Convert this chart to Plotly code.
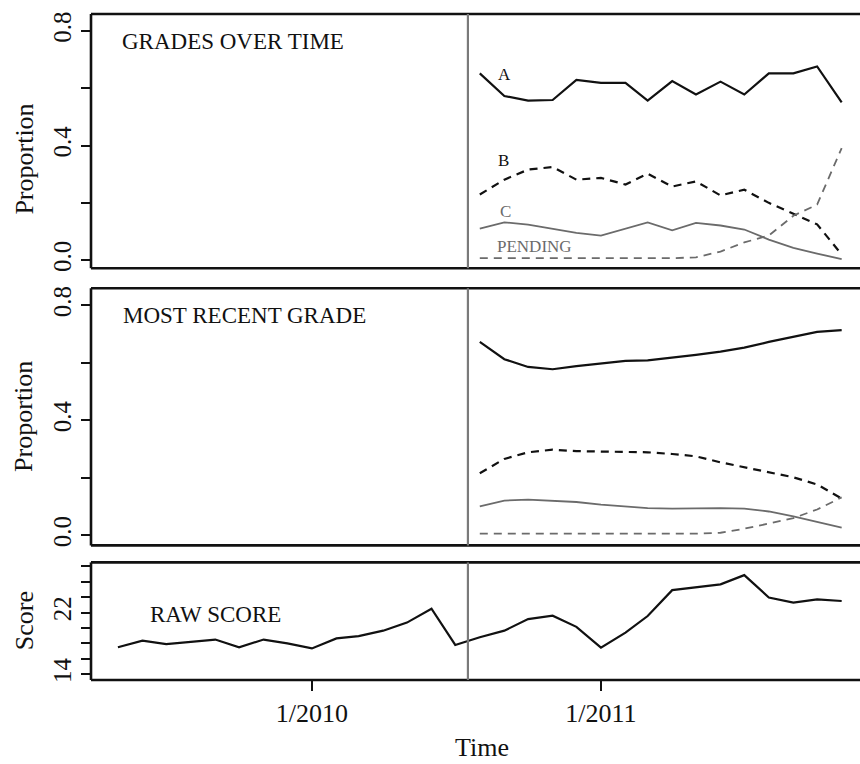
import pandas as pd
import plotly.graph_objects as go

# Monthly observation dates
grade_months = pd.date_range("2010-08-01", "2011-11-01", freq="MS")
score_months = pd.date_range("2009-05-01", "2011-11-01", freq="MS")

# Grades over time (monthly proportions)
top_a = [0.652, 0.573, 0.557, 0.559, 0.629, 0.619, 0.619, 0.557, 0.625, 0.578,
         0.623, 0.578, 0.652, 0.652, 0.676, 0.551]
top_b = [0.229, 0.281, 0.316, 0.325, 0.281, 0.287, 0.264, 0.302, 0.257, 0.275,
         0.226, 0.246, 0.200, 0.162, 0.125, 0.020]
top_c = [0.110, 0.132, 0.124, 0.110, 0.095, 0.086, 0.110, 0.132, 0.104, 0.130,
         0.121, 0.107, 0.072, 0.043, 0.023, 0.004]
top_pending = [0.007, 0.007, 0.006, 0.006, 0.006, 0.006, 0.006, 0.007, 0.007, 0.010,
               0.030, 0.062, 0.086, 0.155, 0.194, 0.391]

# Most recent grade (smoothed proportions)
mid_a = [0.673, 0.613, 0.586, 0.578, 0.589, 0.598, 0.607, 0.609, 0.618, 0.628,
         0.639, 0.653, 0.673, 0.691, 0.708, 0.714]
mid_b = [0.216, 0.266, 0.289, 0.298, 0.293, 0.291, 0.289, 0.289, 0.283, 0.275,
         0.254, 0.237, 0.219, 0.202, 0.177, 0.128]
mid_c = [0.101, 0.121, 0.124, 0.121, 0.116, 0.107, 0.101, 0.095, 0.093, 0.095,
         0.095, 0.093, 0.083, 0.066, 0.046, 0.027]
mid_pending = [0.006, 0.006, 0.006, 0.006, 0.006, 0.006, 0.006, 0.006, 0.006, 0.006,
               0.009, 0.023, 0.041, 0.060, 0.090, 0.132]

# Raw score
raw_score = [17.5, 18.35, 17.9, 18.2, 18.5, 17.5, 18.5, 18.0, 17.35, 18.65,
             18.95, 19.65, 20.7, 22.5, 17.8, 18.8, 19.65, 21.15, 21.6, 20.15,
             17.45, 19.4, 21.55, 24.9, 25.25, 25.65, 26.85, 23.95, 23.3, 23.7, 23.5]

prop_ticks = [0.0, 0.2, 0.4, 0.6, 0.8]
prop_labels = ["0.0", "", "0.4", "", "0.8"]
score_ticks = [14, 16, 18, 20, 22, 24, 26, 28]
score_labels = ["14", "", "", "", "22", "", "", ""]
time_ticks = ["2010-01-01", "2011-01-01"]
time_labels = ["1/2010", "1/2011"]
change_date = "2010-07-17"

FONT = "Liberation Serif"
BLACK = "#111111"
GREY = "#6b6b6b"

fig = go.Figure()

def add_grade_traces(xa, ya, a, b, c, pend):
    common = dict(x=grade_months, mode="lines", xaxis=xa, yaxis=ya, hoverinfo="skip")
    fig.add_trace(go.Scatter(y=a, line=dict(color=BLACK, width=2.2), **common))
    fig.add_trace(go.Scatter(y=b, line=dict(color=BLACK, width=2.2, dash="8px,6px"), **common))
    fig.add_trace(go.Scatter(y=c, line=dict(color=GREY, width=1.8), **common))
    fig.add_trace(go.Scatter(y=pend, line=dict(color=GREY, width=1.8, dash="8px,6px"), **common))

add_grade_traces("x", "y", top_a, top_b, top_c, top_pending)
add_grade_traces("x2", "y2", mid_a, mid_b, mid_c, mid_pending)
fig.add_trace(go.Scatter(x=score_months, y=raw_score, mode="lines", xaxis="x3", yaxis="y3",
                         hoverinfo="skip", line=dict(color=BLACK, width=2.2)))

# plot area stops a little short of the right edge; frames run on to the edge
x_range = ["2009-03-28", "2011-11-09"]
base = dict(showline=False, showgrid=False, zeroline=False)

# panel domains (paper fractions)
domains = [[0.6183, 1.0], [0.2021, 0.5883], [0.0, 0.1766]]
for i, dom in enumerate(domains, start=1):
    sfx = "" if i == 1 else str(i)
    xa = dict(base, range=x_range, domain=[0, 1], anchor=f"y{sfx}")
    if i < 3:
        xa.update(showticklabels=False, ticks="")
    else:
        xa.update(tickvals=time_ticks, ticktext=time_labels, ticks="outside",
                  ticklen=10, tickwidth=2.2, tickcolor=BLACK,
                  tickfont=dict(family=FONT, size=26, color=BLACK))
    ya = dict(base, domain=dom, anchor=f"x{sfx}", ticks="outside", ticklen=9,
              tickwidth=2.2, tickcolor=BLACK, tickangle=-90,
              tickfont=dict(family=FONT, size=25, color=BLACK))
    if i < 3:
        ya.update(range=[-0.028 if i == 1 else -0.035, 0.859 if i == 1 else 0.860],
                  tickvals=prop_ticks, ticktext=prop_labels)
    else:
        ya.update(range=[13.26, 28.5], tickvals=score_ticks, ticktext=score_labels)
    fig.update_layout({f"xaxis{sfx}": xa, f"yaxis{sfx}": ya})

for i in range(1, 4):
    sfx = "" if i == 1 else str(i)
    xr, yr = f"x{sfx} domain", f"y{sfx} domain"
    # open frame: top, bottom and left edges
    for (x0, y0, x1, y1) in [(0, 1, 1.03, 1), (0, 0, 1.03, 0), (0, 0, 0, 1)]:
        fig.add_shape(type="line", xref=xr, yref=yr, x0=x0, y0=y0, x1=x1, y1=y1,
                      line=dict(color=BLACK, width=2.6), layer="above")
    # vertical marker
    fig.add_shape(type="line", xref=f"x{sfx}", yref=yr,
                  x0=change_date, x1=change_date, y0=0, y1=1,
                  line=dict(color="#7a7a7a", width=2.2))

annotations = []
# Panel titles
for text, sfx, ypos, xpos in [("GRADES OVER TIME", "", 0.89, 0.0383),
                              ("MOST RECENT GRADE", "2", 0.895, 0.0396),
                              ("RAW SCORE", "3", 0.56, 0.0753)]:
    annotations.append(dict(text=text, xref=f"x{sfx} domain", yref=f"y{sfx} domain",
                            x=xpos, y=ypos, xanchor="left", yanchor="middle",
                            showarrow=False, font=dict(family=FONT, size=23, color=BLACK)))

# Series labels in the top panel
for text, xd, yv, color in [("A", "2010-08-22", 0.647, BLACK),
                            ("B", "2010-08-22", 0.348, BLACK),
                            ("C", "2010-08-24", 0.170, GREY),
                            ("PENDING", "2010-08-20", 0.049, GREY)]:
    annotations.append(dict(text=text, xref="x", yref="y", x=xd, y=yv,
                            xanchor="left", yanchor="middle", showarrow=False,
                            font=dict(family=FONT, size=17, color=color)))

# Axis titles
for text, ypos in [("Proportion", 0.7815), ("Proportion", 0.3952), ("Score", 0.0883)]:
    annotations.append(dict(text=text, xref="paper", yref="paper", x=-0.0884, y=ypos,
                            xanchor="center", yanchor="middle", textangle=-90,
                            showarrow=False, font=dict(family=FONT, size=26, color=BLACK)))
annotations.append(dict(text="Time", xref="paper", yref="paper", x=0.516, y=-0.102,
                        xanchor="center", yanchor="middle", showarrow=False,
                        font=dict(family=FONT, size=26, color=BLACK)))

fig.update_layout(annotations=annotations, width=860, height=764,
                  margin=dict(l=91, r=12, t=12, b=84),
                  paper_bgcolor="white", plot_bgcolor="white", showlegend=False)

fig.write_html("out.html")
